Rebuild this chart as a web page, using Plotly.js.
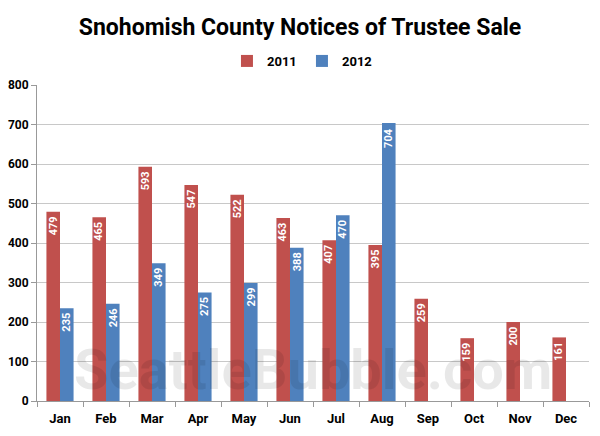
<!DOCTYPE html>
<html>
<head>
<meta charset="utf-8">
<script src="https://cdn.plot.ly/plotly-3.0.1.min.js"></script>
<style>
html,body{margin:0;padding:0;background:#fff;}
#chart{width:600px;height:436px;}
</style>
</head>
<body>
<div id="chart"></div>
<script>
const months = ["Jan","Feb","Mar","Apr","May","Jun","Jul","Aug","Sep","Oct","Nov","Dec"];
const values2011 = [479,465,593,547,522,463,407,395,259,159,200,161];
const months2012 = ["Jan","Feb","Mar","Apr","May","Jun","Jul","Aug"];
const values2012 = [235,246,349,275,299,388,470,704];
const yTicks = [0,100,200,300,400,500,600,700,800];

const FONT = "Roboto, 'Liberation Sans', sans-serif";
const C2011 = "#c0504d", C2012 = "#4f81bd";

const traces = [
  {type: "bar", name: "2011", x: months, y: values2011, marker: {color: C2011}},
  {type: "bar", name: "2012", x: months2012, y: values2012, marker: {color: C2012}}
];

function labels(xs, ys, shift) {
  return ys.map((v, i) => ({
    x: xs[i], y: v, xref: "x", yref: "y", text: String(v), showarrow: false,
    textangle: -90, xanchor: "center", yanchor: "top", xshift: shift, yshift: -3,
    font: {family: FONT, size: 11, color: "#ffffff", weight: "bold"}
  }));
}

const layout = {
  width: 600, height: 436,
  margin: {l: 37, r: 11, t: 85, b: 35},
  paper_bgcolor: "#ffffff", plot_bgcolor: "#ffffff",
  title: {text: "Snohomish County Notices of Trustee Sale", x: 0.5, xanchor: "center",
          y: 0.938, yanchor: "middle",
          font: {family: FONT, size: 23, color: "#000000", weight: "bold"}},
  showlegend: true,
  legend: {orientation: "h", x: 0.48, xanchor: "center", y: 1.076, yanchor: "middle",
           font: {family: FONT, size: 13, color: "#000", weight: "bold"},
           itemwidth: 30, traceorder: "normal", entrywidth: 30, entrywidthmode: "pixels"},
  barmode: "group", bargap: 0.41, bargroupgap: 0,
  xaxis: {categoryorder: "array", categoryarray: months,
          showline: true, linecolor: "#999", linewidth: 1,
          ticks: "outside", tickson: "boundaries", ticklen: 5, tickcolor: "#999",
          ticklabelstandoff: 5,
          tickfont: {family: FONT, size: 13, color: "#000", weight: "bold"},
          showgrid: false, fixedrange: true},
  yaxis: {range: [0, 800], tickvals: yTicks, ticktext: yTicks.map(String),
          showgrid: true, gridcolor: "#c8c8c8", gridwidth: 1,
          showline: true, linecolor: "#999", linewidth: 1,
          ticks: "outside", ticklen: 5, tickcolor: "#999",
          tickfont: {family: FONT, size: 12, color: "#000", weight: "bold"},
          zeroline: false, fixedrange: true},
  annotations: [{text: "SeattleBubble.com", xref: "paper", yref: "paper",
                 x: 0.5, y: 0.0, xanchor: "center", yanchor: "bottom", yshift: -4, showarrow: false,
                 font: {family: FONT, size: 56, color: "rgba(0,0,0,0.09)", weight: "bold"}}]
    .concat(labels(months, values2011, -7), labels(months2012, values2012, 7))
};

Plotly.newPlot("chart", traces, layout, {displayModeBar: false, staticPlot: true});
</script>
</body>
</html>
